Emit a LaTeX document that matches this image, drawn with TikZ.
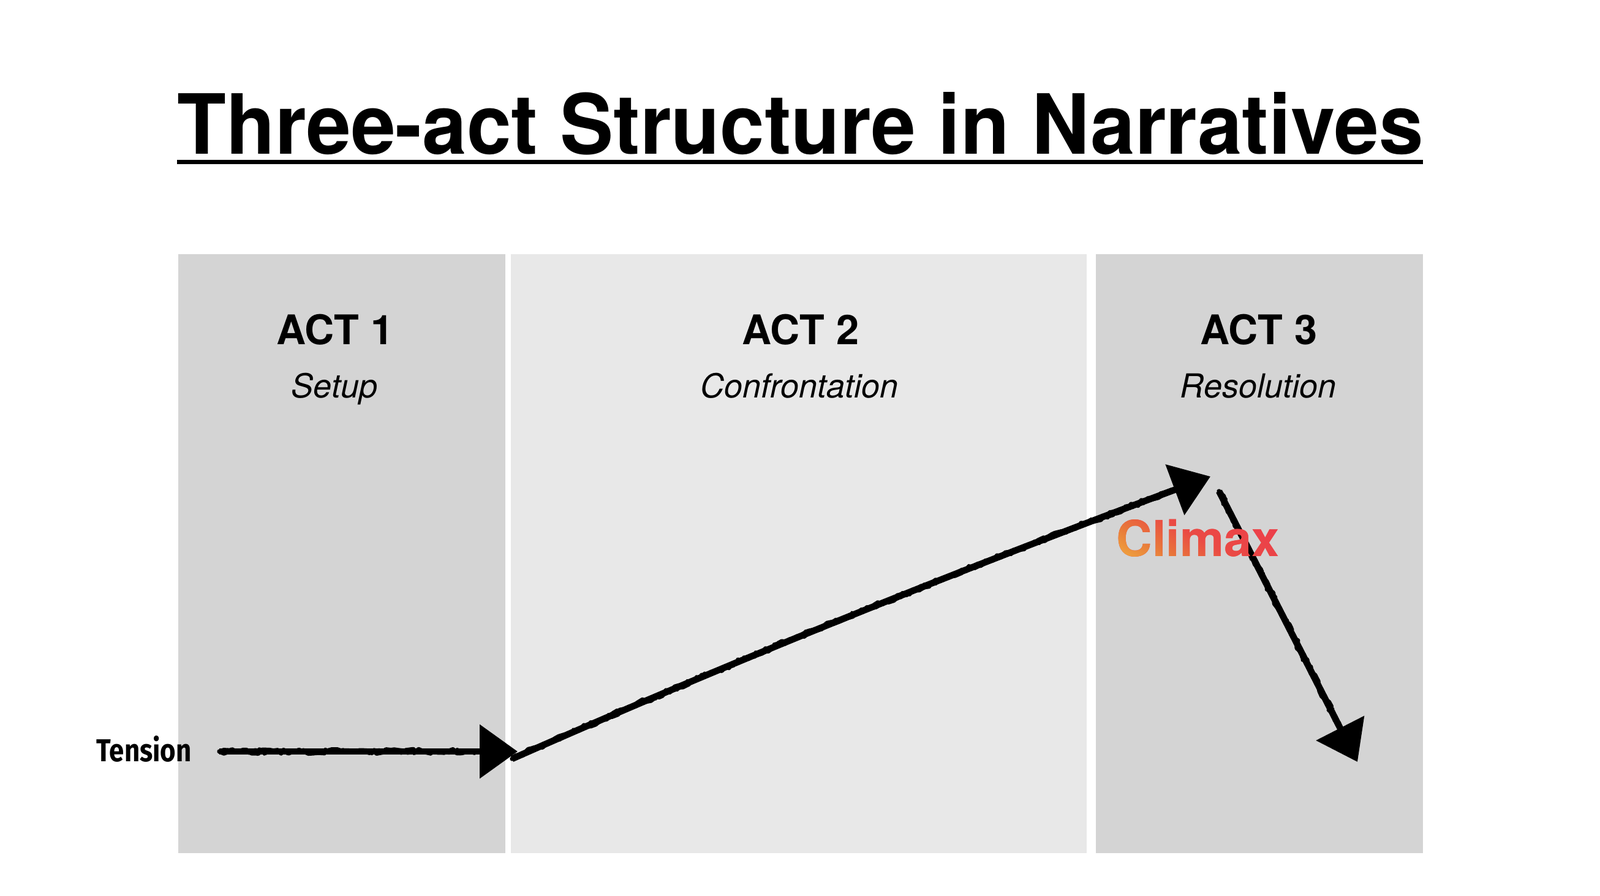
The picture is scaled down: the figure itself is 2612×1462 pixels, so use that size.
\documentclass[tikz,border=0pt]{standalone}
\usepackage{fontspec}
\setmainfont{TeX Gyre Heros}
\newfontfamily\tensfont{Fira Sans}
\usetikzlibrary{arrows.meta,decorations.pathmorphing,fadings,shadings,calc}
\definecolor{panelA}{RGB}{212,212,212}
\definecolor{panelB}{RGB}{232,232,232}
\definecolor{cy}{RGB}{242,184,64}
\definecolor{co}{RGB}{232,120,58}
\definecolor{cr}{RGB}{234,74,68}
\definecolor{crr}{RGB}{238,54,80}
\definecolor{cmid}{RGB}{234,80,66}
\pgfdeclarehorizontalshading{climaxgrad}{100bp}{color(0bp)=(cy); color(34bp)=(cy); color(43bp)=(co); color(50bp)=(cr); color(70bp)=(crr); color(100bp)=(crr)}
\newcommand\climaxfont{\fontsize{24.3pt}{24.3pt}\selectfont\bfseries}
\begin{tikzfadingfrompicture}[name=climaxfade]
\path (-50bp,-50bp) rectangle (50bp,50bp);
\node[text=transparent!0, inner sep=0pt, font=\climaxfont] at (0,0) {Climax};
\end{tikzfadingfrompicture}
\begin{document}
\begin{tikzpicture}[x=0.3pt,y=-0.3pt,
  actlabel/.style={font=\fontsize{20pt}{20pt}\selectfont\bfseries, anchor=base, inner sep=0pt},
  actsub/.style={font=\fontsize{16.2pt}{16.2pt}\selectfont\itshape, anchor=base, inner sep=0pt},
  chalk/.style={line width=3.2pt, line cap=butt, draw=black},
  rough/.style={decorate, decoration={random steps, segment length=2pt, amplitude=1.1pt}, line width=2.2pt, line join=round, line cap=round, draw=black},
  roughb/.style={decorate, decoration={random steps, segment length=1.5pt, amplitude=1.4pt}, line width=1.3pt, line join=round, line cap=round, draw=black},
  headtip/.style={-{Triangle[length=18.6pt,width=25.8pt]}}
]
\useasboundingbox (0,0) rectangle (2612,1462);
\fill[white] (0,0) rectangle (2612,1462);
% panels
\fill[panelA] (291,415) rectangle (825,1393);
\fill[panelB] (834,415) rectangle (1774,1393);
\fill[panelA] (1789,415) rectangle (2323,1393);
% title
\node[anchor=base west, inner sep=0pt] (title) at (289,251) {\resizebox{610.2pt}{30.3pt}{\bfseries Three-act Structure in Narratives}};
\fill (289,261) rectangle (2323,268);
% act labels
\node[actlabel] (act1) at (547,562) {ACT 1};
\node[actlabel] (act2) at (1307,562) {ACT 2};
\node[actlabel] (act3) at (2055,562) {ACT 3};
\node[actsub] (sub1) at (546,649) {Setup};
\node[actsub] (sub2) at (1305,649) {Confrontation};
\node[actsub] (sub3) at (2054,649) {Resolution};
% tension
\node[anchor=base west, inner sep=0pt] (tension) at (157,1243) {\resizebox{46.5pt}{12.6pt}{\tensfont\bfseries Tension}};
% arrows
\coordinate (a1s) at (358,1227);
\coordinate (a1e) at (845,1227);
\coordinate (a2s) at (836,1239);
\coordinate (a2e) at (1976,778);
\coordinate (a3s) at (1990,802);
\coordinate (a3e) at (2216,1244);
\coordinate (a1m) at ($(a1e)!19.2pt!(a1s)$);
\coordinate (a3m) at ($(a3e)!19.2pt!(a3s)$);
\coordinate (a2m) at (1918,800);
\draw[chalk, headtip] (a1s) -- (a1e);
\draw[rough] (a1s) -- (a1m);
\draw[roughb] (a1s) -- (a1m);
\draw[chalk, headtip] (a2s) .. controls (1213,1072) and (1593,921) .. (a2e);
\draw[rough] (a2s) .. controls (1213,1072) and (1580,925) .. (a2m);
\draw[roughb] (a2s) .. controls (1213,1072) and (1580,925) .. (a2m);
\draw[chalk, headtip] (a3s) -- (a3e);
\draw[rough] (a3s) -- (a3m);
\draw[roughb] (a3s) -- (a3m);
% climax
\node[anchor=base west, inner sep=0pt, font=\climaxfont, text=cmid] (climax) at (1822,908) {Climax};
\shade[path fading=climaxfade, fit fading=false, fading transform={shift={(climax.center)}}, shading=climaxgrad, shading angle=60] ($(climax.center)+(-50bp,-50bp)$) rectangle ($(climax.center)+(50bp,50bp)$);
\end{tikzpicture}
\end{document}
